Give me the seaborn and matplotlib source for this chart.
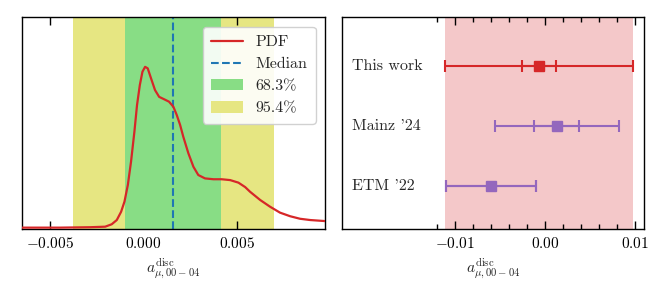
import numpy as np
import matplotlib
matplotlib.use("Agg")
import matplotlib.pyplot as plt
import seaborn as sns
from matplotlib.patches import Patch
from matplotlib.lines import Line2D

# PDF of a_mu disc (arbitrary units)
pdf_x = [-0.00647, -0.00445, -0.00284, -0.00204, -0.00169, -0.00142, -0.00119, -0.00101,
         -0.00083, -0.00066, -0.00048, -0.00034, -0.00019, -0.00005, 0.00009, 0.00023,
         0.00041, 0.00062, 0.00084, 0.00112, 0.00137, 0.0016, 0.00178, 0.00196, 0.00213,
         0.0024, 0.00267, 0.00293, 0.00329, 0.00374, 0.00418, 0.00463, 0.00507, 0.00543,
         0.00569, 0.00623, 0.00676, 0.00729, 0.00783, 0.00836, 0.0089, 0.0097]
pdf_y = [0.005, 0.005, 0.007, 0.0095, 0.021, 0.041, 0.080, 0.128,
         0.207, 0.317, 0.459, 0.585, 0.680, 0.743, 0.766, 0.759,
         0.711, 0.656, 0.624, 0.612, 0.601, 0.577, 0.538, 0.491, 0.435,
         0.357, 0.293, 0.254, 0.238, 0.234, 0.234, 0.230, 0.218, 0.197,
         0.175, 0.136, 0.104, 0.076, 0.059, 0.047, 0.041, 0.036]
median = 0.00157
band_68 = [-0.00098, 0.00415]
band_95 = [-0.00377, 0.00697]

# comparison
labels = ["This work", "Mainz '24", "ETM '22"]
centers = [-0.0007, 0.00134, -0.0060]
inner_lo = [-0.00262, -0.00122, -0.0110]
inner_hi = [0.00119, 0.00378, -0.00103]
outer_lo = [-0.01114, -0.00559, -0.0110]
outer_hi = [0.0097, 0.00822, -0.00103]
colors = ["tab:red", "tab:purple", "tab:purple"]

sns.set_style("ticks")
plt.rcParams["font.family"] = ["cmr10", "DejaVu Serif"]
plt.rcParams["mathtext.fontset"] = "cm"
plt.rcParams["axes.formatter.use_mathtext"] = True
plt.rcParams["xtick.direction"] = "in"
plt.rcParams["xtick.top"] = True
plt.rcParams["axes.edgecolor"] = "black"
plt.rcParams["axes.linewidth"] = 1.0

fig = plt.figure(figsize=(6.7, 2.92), dpi=100)
ax1 = fig.add_axes([0.0328, 0.2168, 0.4525, 0.7236])
ax2 = fig.add_axes([0.51, 0.2168, 0.4516, 0.7236])

xlab = r"$a_{\mu,00-04}^{\mathrm{disc}}$"

# left panel
ax1.axvspan(band_95[0], band_95[1], color="#e6e682", lw=0, zorder=0)
ax1.axvspan(band_68[0], band_68[1], color="#88dd85", lw=0, zorder=1)
ax1.axvline(median, color="tab:blue", ls="--", lw=1.5, zorder=2)
sns.lineplot(x=pdf_x, y=pdf_y, ax=ax1, color="#d62728", lw=1.6, zorder=3)
ax1.set_xlim(-0.00648, 0.0097)
ax1.set_ylim(0, 1.0)
ax1.set_yticks([])
ax1.set_xticks([-0.005, 0.0, 0.005])
ax1.set_xticklabels(["$-0.005$", "$0.000$", "$0.005$"])
ax1.tick_params(axis="x", length=5.5, width=1, labelsize=11, pad=5, colors="black")
ax1.set_xlabel(xlab, fontsize=11)
handles = [Line2D([], [], color="#d62728", lw=1.6),
           Line2D([], [], color="tab:blue", ls="--", lw=1.5),
           Patch(color="#88dd85", lw=0),
           Patch(color="#e6e682", lw=0)]
ax1.legend(handles, ["PDF", "Median", r"68.3%", r"95.4%"], loc="upper right",
           fontsize=11.5, frameon=True, framealpha=0.9, edgecolor="#cccccc",
           handlelength=2.0, borderpad=0.5, labelspacing=0.5, borderaxespad=0.6)

# right panel
ax2.axvspan(outer_lo[0], outer_hi[0], color="tab:red", alpha=0.25, lw=0, zorder=0)
ypos = [2, 1, 0]
for i in range(len(labels)):
    c = colors[i]
    ax2.errorbar([centers[i]], [ypos[i]],
                 xerr=[[centers[i] - outer_lo[i]], [outer_hi[i] - centers[i]]],
                 fmt="none", ecolor=c, elinewidth=1.5, capsize=4.5, capthick=1.5, zorder=2)
    ax2.errorbar([centers[i]], [ypos[i]],
                 xerr=[[centers[i] - inner_lo[i]], [inner_hi[i] - centers[i]]],
                 fmt="s", color=c, ms=7, elinewidth=1.5, capsize=4.5, capthick=1.5, zorder=3)
    ax2.text(0.035, ypos[i], labels[i], transform=ax2.get_yaxis_transform(),
             ha="left", va="center", fontsize=11.5)
ax2.set_xlim(-0.02262, 0.0110)
ax2.set_ylim(-0.7, 2.8)
ax2.set_yticks([])
ax2.set_xticks([-0.01, 0.0, 0.01])
ax2.set_xticklabels(["$-0.01$", "$0.00$", "$0.01$"])
ax2.set_xticks(np.arange(-0.012, 0.0101, 0.002), minor=True)
ax2.tick_params(axis="x", which="major", length=5.5, width=1, labelsize=11, pad=5, colors="black")
ax2.tick_params(axis="x", which="minor", length=3.5, width=1, top=True, direction="in", colors="black")
ax2.set_xlabel(xlab, fontsize=11)

fig.savefig("out.png", dpi=100)
